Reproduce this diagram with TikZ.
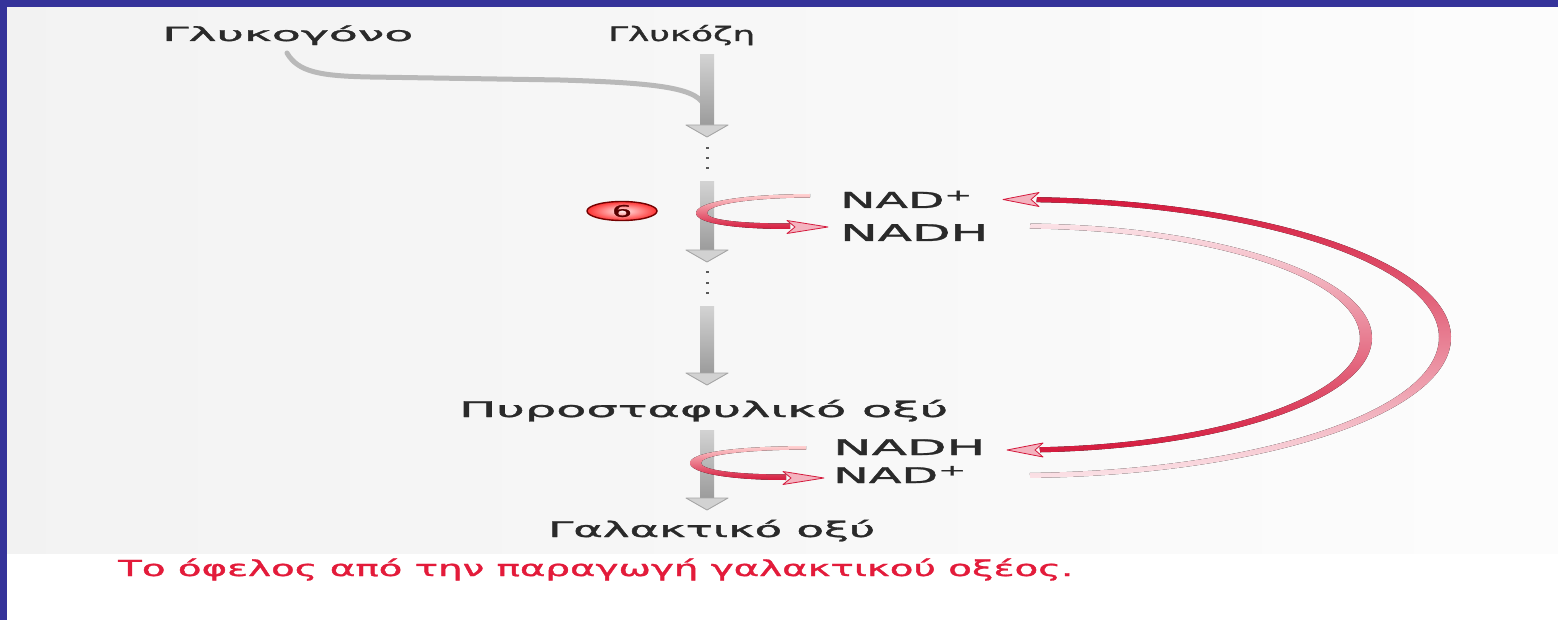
\documentclass[tikz,border=0pt]{standalone}
\usepackage{fontspec}
\setmainfont[FakeBold=1.2]{DejaVu Sans}
\usepackage{graphicx}
\usetikzlibrary{calc,shapes.geometric}

\definecolor{frameblue}{HTML}{35339A}
\definecolor{txt}{HTML}{2A2A2A}
\definecolor{capred}{HTML}{E31B3A}
\definecolor{arcred}{HTML}{D41A3D}
\definecolor{arcpale}{HTML}{FBE1E6}
\definecolor{headpink}{HTML}{F4B3BF}

% wide text: #1 target width (pt), #2 font size, #3 text
\newcommand\wtxt[3]{\resizebox{#1pt}{\height}{\fontsize{#2}{#2}\selectfont #3}}

\tikzset{
  lbl/.style={inner sep=0pt, anchor=base west, text=txt},
  shaft/.style={top color=gray!35, bottom color=gray!78, draw=none},
  ahead/.style={fill=gray!35, draw=gray!70, line width=0.9pt, line join=round},
  dotmark/.style={fill=gray!70!black},
  redhead/.style={fill=headpink, draw=arcred, line width=0.8pt, line join=round},
  glyline/.style={draw=gray!55, line width=5pt, line cap=round},
  badge/.style={ellipse, draw=red!45!black, line width=1.4pt, inner sep=0pt,
    minimum width=70pt, minimum height=19pt, inner color=red!8, outer color=red!80,
    text=red!35!black},
}

\begin{document}
\begin{tikzpicture}[x=1pt,y=-1pt]
\useasboundingbox (0,0) rectangle (1558,620);
% background
\fill[white] (0,0) rectangle (1558,620);
\fill[left color=black!5, right color=black!1] (7,7) rectangle (1558,553);
\fill[frameblue] (0,0) rectangle (1558,7);
\fill[frameblue] (0,0) rectangle (7,620);

% labels
\node[lbl] (glycogen) at (162,41) {\wtxt{251}{19.5}{Γλυκογόνο}};
\node[lbl] (glucose)  at (608,41) {\wtxt{147}{20}{Γλυκόζη}};
\node[lbl] (nadT)     at (840,208) {\wtxt{133}{22}{NAD\textsuperscript{+}}};
\node[lbl] (nadhT)    at (840,241) {\wtxt{148}{23}{NADH}};
\node[lbl] (pyruvate) at (459,417) {\wtxt{489}{21.5}{Πυροσταφυλικό οξύ}};
\node[lbl] (nadhB)    at (833,455) {\wtxt{152}{21.5}{NADH}};
\node[lbl] (nadB)     at (833,483) {\wtxt{134}{21.5}{NAD\textsuperscript{+}}};
\node[lbl] (lactate)  at (548,537) {\wtxt{327}{21.5}{Γαλακτικό οξύ}};
\node[lbl, text=capred] (caption) at (118,576) {\wtxt{955}{22}{Το όφελος από την παραγωγή γαλακτικού οξέος.}};

% glycogen branch joining the main arrow
\coordinate (gstart) at (287,53);
\coordinate (gjoin) at (705,108);
\draw[glyline] (gstart) .. controls (298,72) and (320,76) .. (370,77)
  -- (560,80) .. controls (660,83) and (700,88) .. (gjoin);

% vertical grey arrows
\foreach \top/\base/\tip/\nm in {55/125/137/a, 182/250/262/b, 307/373/385/c, 430/498/510/d}{
  \fill[shaft] (700,\top) rectangle (714,\base);
  \filldraw[ahead] (686,\base) -- (728,\base) -- (707,\tip) coordinate (tip\nm) -- cycle;
}
% dots
\foreach \yy in {148,158,168,272,283,293}{
  \fill[dotmark] (705.5,\yy-1.3) rectangle (708.5,\yy+1.3);
}

% step badge
\node[badge] (b6) at (622,211) {\wtxt{20}{16}{6}};

% small red loop at step 6
\fill[top color=red!18, middle color=red!70, bottom color=arcred]
  (810,194) .. controls (735,194.5) and (696,203) .. (696,213)
  .. controls (696,223.5) and (735,229) .. (790,229)
  -- (790,223.5) .. controls (740,223.5) and (707,220) .. (707,213)
  .. controls (707,206) and (740,198) .. (810,197.5) -- cycle;
\filldraw[redhead] (787,220.5) -- (828,227) -- (787,233.5) -- (795,227) -- cycle;

% small red loop at lactate step
\fill[top color=red!18, middle color=red!70, bottom color=arcred]
  (806,446) .. controls (730,446.5) and (690,453) .. (690,463)
  .. controls (690,473.5) and (732,480) .. (786,480)
  -- (786,474.5) .. controls (736,474.5) and (701,470) .. (701,463)
  .. controls (701,456) and (736,450) .. (806,449.5) -- cycle;
\filldraw[redhead] (783,471.5) -- (824,478) -- (783,484.5) -- (791,478) -- cycle;

% outer arc: NAD+ (lower) back to NAD+ (upper)
\coordinate (oc) at (1015,337.5);
\fill[top color=arcred, middle color=arcred!85!white, bottom color=arcpale]
  (oc) ++(88:436 and 140.5) arc[start angle=88, end angle=-87.1, x radius=436, y radius=140.5]
  -- ($(oc)+(-87.1:424 and 135.5)$) arc[start angle=-87.1, end angle=88, x radius=424, y radius=135.5]
  -- cycle;
\filldraw[redhead] (1039,192.5) -- (1003,199.5) -- (1039,206.5) -- (1031,199.5) -- cycle;

% inner arc: NADH (upper) to NADH (lower)
\coordinate (ic) at (1018,338);
\fill[top color=arcpale, middle color=arcred!80!white, bottom color=arcred]
  (ic) ++(-88:354 and 114.5) arc[start angle=-88, end angle=86.4, x radius=354, y radius=114.5]
  -- ($(ic)+(86.4:342 and 109.5)$) arc[start angle=86.4, end angle=-88, x radius=342, y radius=109.5]
  -- cycle;
\filldraw[redhead] (1043,443) -- (1007,450) -- (1043,457) -- (1035,450) -- cycle;
\end{tikzpicture}
\end{document}
